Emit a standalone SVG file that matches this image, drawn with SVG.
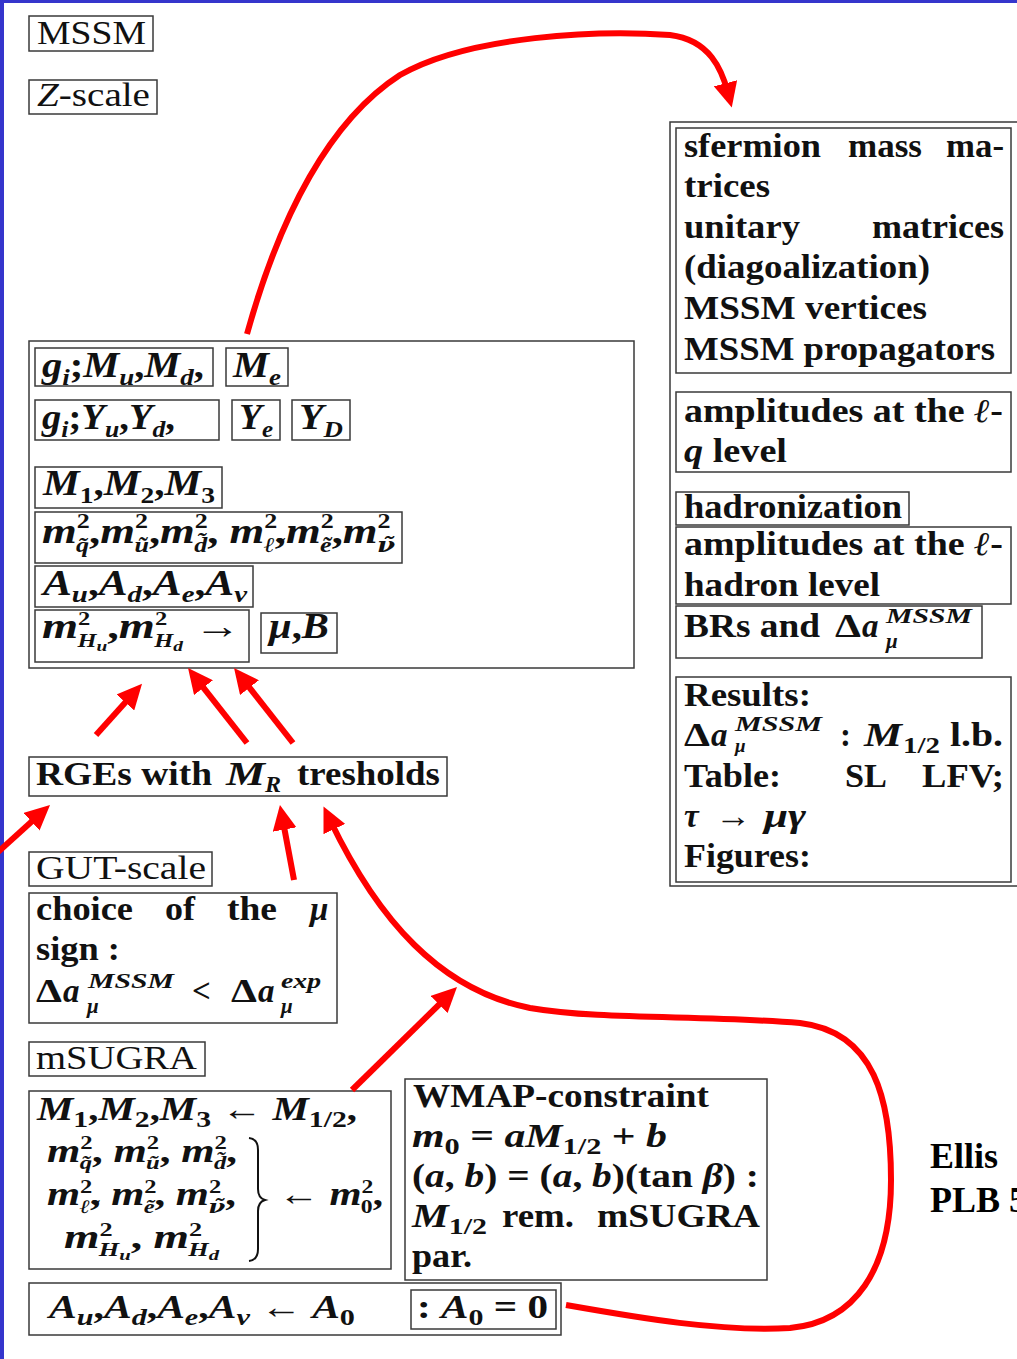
<svg xmlns="http://www.w3.org/2000/svg" width="1017" height="1359" viewBox="0 0 1017 1359">
<defs>
<style>
.bx{fill:none;stroke:#3a3a3a;stroke-width:1.5}
text{font-family:"Liberation Serif","DejaVu Serif",serif;fill:#111}
.r{font-size:33px}
.b{font-size:33px;font-weight:bold}
.m{font-size:36px;font-weight:bold;font-style:italic}
.m2{font-size:33px;font-weight:bold;font-style:italic}
.it{font-style:italic}
.s{font-size:24px}
.t{font-size:21px}
.t2{font-size:19px}
.ss{font-size:15px}
.u{font-style:normal}
.dj{font-family:"DejaVu Serif",serif}
.ar{fill:none;stroke:#ff0000;stroke-width:6}
.ell{font-size:36px;font-weight:bold;fill:#000}
</style>
<marker id="ah" markerUnits="userSpaceOnUse" markerWidth="26" markerHeight="24" refX="10" refY="12" orient="auto" viewBox="0 0 26 24"><path d="M0,0 L25,12 L0,24 z" fill="#ff0000"/></marker>
</defs>
<rect x="0" y="0" width="1017" height="1359" fill="#ffffff"/>
<rect x="0" y="0" width="1017" height="3" fill="#3535cc"/>
<rect x="0" y="0" width="4" height="1359" fill="#3535cc"/>

<g id="mssm"><rect class="bx" x="29" y="16" width="124" height="35"/><text class="r" x="37" y="44" textLength="109" lengthAdjust="spacingAndGlyphs">MSSM</text></g>
<g id="zscale"><rect class="bx" x="29" y="80" width="128" height="34"/><text class="r" x="37" y="106" textLength="113" lengthAdjust="spacingAndGlyphs"><tspan class="it">Z</tspan>-scale</text></g>

<g id="mssm-params">
<rect class="bx" x="29" y="341" width="605" height="327"/>
<rect class="bx" x="35" y="348" width="178" height="38"/>
<text class="m" x="42" y="377" textLength="162" lengthAdjust="spacingAndGlyphs">g<tspan class="s" dy="8">i</tspan><tspan class="u" dy="-8">;</tspan>M<tspan class="s" dy="8">u</tspan><tspan class="u" dy="-8">,</tspan>M<tspan class="s" dy="8">d</tspan><tspan class="u" dy="-8">,</tspan></text>
<rect class="bx" x="226" y="348" width="62" height="38"/>
<text class="m" x="233" y="377" textLength="48" lengthAdjust="spacingAndGlyphs">M<tspan class="s" dy="8">e</tspan></text>
<rect class="bx" x="35" y="400" width="184" height="40"/>
<text class="m" x="42" y="429" textLength="133" lengthAdjust="spacingAndGlyphs">g<tspan class="s" dy="8">i</tspan><tspan class="u" dy="-8">;</tspan>Y<tspan class="s" dy="8">u</tspan><tspan class="u" dy="-8">,</tspan>Y<tspan class="s" dy="8">d</tspan><tspan class="u" dy="-8">,</tspan></text>
<rect class="bx" x="232" y="400" width="48" height="40"/>
<text class="m" x="239" y="429" textLength="34" lengthAdjust="spacingAndGlyphs">Y<tspan class="s" dy="8">e</tspan></text>
<rect class="bx" x="292" y="400" width="58" height="40"/>
<text class="m" x="299" y="429" textLength="44" lengthAdjust="spacingAndGlyphs">Y<tspan class="s" dy="8">D</tspan></text>
<rect class="bx" x="35" y="467" width="187" height="41"/>
<text class="m" x="43" y="495" textLength="172" lengthAdjust="spacingAndGlyphs">M<tspan class="s u" dy="8">1</tspan><tspan class="u" dy="-8">,</tspan>M<tspan class="s u" dy="8">2</tspan><tspan class="u" dy="-8">,</tspan>M<tspan class="s u" dy="8">3</tspan></text>
<rect class="bx" x="35" y="512" width="367" height="51"/>
<text class="m" x="42" y="543" textLength="353" lengthAdjust="spacingAndGlyphs">m<tspan class="t u" dy="-15">2</tspan><tspan class="t" dx="-11" dy="24">q̃</tspan><tspan class="u" dy="-9">,</tspan>m<tspan class="t u" dy="-15">2</tspan><tspan class="t" dx="-11" dy="24">ũ</tspan><tspan class="u" dy="-9">,</tspan>m<tspan class="t u" dy="-15">2</tspan><tspan class="t" dx="-11" dy="24">d̃</tspan><tspan class="u" dy="-9">, </tspan>m<tspan class="t u" dy="-15">2</tspan><tspan class="t" dx="-11" dy="24">ℓ̃</tspan><tspan class="u" dy="-9">,</tspan>m<tspan class="t u" dy="-15">2</tspan><tspan class="t" dx="-11" dy="24">ẽ</tspan><tspan class="u" dy="-9">,</tspan>m<tspan class="t u" dy="-15">2</tspan><tspan class="t dj" dx="-11" dy="24">ν̃</tspan></text>
<rect class="bx" x="35" y="566" width="218" height="41"/>
<text class="m" x="43" y="595" textLength="204" lengthAdjust="spacingAndGlyphs">A<tspan class="s" dy="7">u</tspan><tspan class="u" dy="-7">,</tspan>A<tspan class="s" dy="7">d</tspan><tspan class="u" dy="-7">,</tspan>A<tspan class="s" dy="7">e</tspan><tspan class="u" dy="-7">,</tspan>A<tspan class="s" dy="7">ν</tspan></text>
<rect class="bx" x="35" y="610" width="214" height="52"/>
<text class="m" x="42" y="638" textLength="199" lengthAdjust="spacingAndGlyphs">m<tspan class="t2 u" dy="-13">2</tspan><tspan class="t2" dx="-10" dy="22">H</tspan><tspan class="ss" dy="4">u</tspan><tspan class="u" dy="-13">,</tspan>m<tspan class="t2 u" dy="-13">2</tspan><tspan class="t2" dx="-10" dy="22">H</tspan><tspan class="ss" dy="4">d</tspan><tspan class="u" dy="-13"> →</tspan></text>
<rect class="bx" x="261" y="613" width="76" height="40"/>
<text class="m" x="269" y="638" textLength="60" lengthAdjust="spacingAndGlyphs">μ<tspan class="u">,</tspan>B</text>
</g>

<g id="right-column">
<rect class="bx" x="670" y="122" width="360" height="764"/>
<g id="sfermion">
<rect class="bx" x="676" y="128" width="335" height="245"/>
<text class="b" x="684" y="157" textLength="137" lengthAdjust="spacingAndGlyphs">sfermion</text>
<text class="b" x="848" y="157" textLength="74" lengthAdjust="spacingAndGlyphs">mass</text>
<text class="b" x="946" y="157" textLength="58" lengthAdjust="spacingAndGlyphs">ma-</text>
<text class="b" x="684" y="197" textLength="86" lengthAdjust="spacingAndGlyphs">trices</text>
<text class="b" x="684" y="238" textLength="116" lengthAdjust="spacingAndGlyphs">unitary</text>
<text class="b" x="872" y="238" textLength="132" lengthAdjust="spacingAndGlyphs">matrices</text>
<text class="b" x="684" y="278" textLength="246" lengthAdjust="spacingAndGlyphs">(diagoalization)</text>
<text class="b" x="684" y="319" textLength="243" lengthAdjust="spacingAndGlyphs">MSSM vertices</text>
<text class="b" x="684" y="360" textLength="311" lengthAdjust="spacingAndGlyphs">MSSM propagators</text>
</g>
<g id="amp-lq">
<rect class="bx" x="676" y="392" width="335" height="80"/>
<text class="b" x="684" y="422" textLength="319" lengthAdjust="spacingAndGlyphs">amplitudes at the <tspan class="it">ℓ</tspan>-</text>
<text class="b" x="684" y="462" textLength="103" lengthAdjust="spacingAndGlyphs"><tspan class="it">q</tspan> level</text>
</g>
<g id="hadronization">
<rect class="bx" x="676" y="492" width="233" height="33"/>
<text class="b" x="684" y="518" textLength="218" lengthAdjust="spacingAndGlyphs">hadronization</text>
</g>
<g id="amp-lh">
<rect class="bx" x="676" y="527" width="335" height="77"/>
<text class="b" x="684" y="555" textLength="319" lengthAdjust="spacingAndGlyphs">amplitudes at the <tspan class="it">ℓ</tspan>-</text>
<text class="b" x="684" y="596" textLength="196" lengthAdjust="spacingAndGlyphs">hadron level</text>
</g>
<g id="brs">
<rect class="bx" x="676" y="606" width="306" height="52"/>
<text class="b" x="684" y="637" textLength="136" lengthAdjust="spacingAndGlyphs">BRs and</text>
<text class="b" x="835" y="637" textLength="26" lengthAdjust="spacingAndGlyphs">Δ</text>
<text class="m2" x="862" y="637">a</text>
<text class="m2 t" x="886" y="623" textLength="86" lengthAdjust="spacingAndGlyphs">MSSM</text>
<text class="m2 t" x="886" y="648">μ</text>
</g>
<g id="results">
<rect class="bx" x="676" y="677" width="335" height="205"/>
<text class="b" x="684" y="706" textLength="127" lengthAdjust="spacingAndGlyphs">Results:</text>
<text class="b" x="684" y="746" textLength="26" lengthAdjust="spacingAndGlyphs">Δ</text>
<text class="m2" x="711" y="746">a</text>
<text class="m2 t" x="735" y="731" textLength="87" lengthAdjust="spacingAndGlyphs">MSSM</text>
<text class="m2 t2" x="735" y="752">μ</text>
<text class="b" x="840" y="746">:</text>
<text class="m2" x="864" y="746" textLength="38" lengthAdjust="spacingAndGlyphs">M</text>
<text class="b s" x="903" y="753" textLength="37" lengthAdjust="spacingAndGlyphs">1/2</text>
<text class="b" x="950" y="746" textLength="53" lengthAdjust="spacingAndGlyphs">l.b.</text>
<text class="b" x="684" y="787" textLength="97" lengthAdjust="spacingAndGlyphs">Table:</text>
<text class="b" x="845" y="787" textLength="42" lengthAdjust="spacingAndGlyphs">SL</text>
<text class="b" x="922" y="787" textLength="82" lengthAdjust="spacingAndGlyphs">LFV;</text>
<text class="m2" x="684" y="827">τ</text>
<text class="b" x="715" y="827" textLength="36" lengthAdjust="spacingAndGlyphs">→</text>
<text class="m2" x="764" y="827" textLength="42" lengthAdjust="spacingAndGlyphs">μγ</text>
<text class="b" x="684" y="867" textLength="127" lengthAdjust="spacingAndGlyphs">Figures:</text>
</g>
</g>

<g id="rges">
<rect class="bx" x="29" y="757" width="418" height="39"/>
<text class="b" x="36" y="785" textLength="176" lengthAdjust="spacingAndGlyphs">RGEs with</text>
<text class="m2" x="226" y="785" textLength="39" lengthAdjust="spacingAndGlyphs">M</text>
<text class="m2 s" x="265" y="792">R</text>
<text class="b" x="297" y="785" textLength="143" lengthAdjust="spacingAndGlyphs">tresholds</text>
</g>
<g id="gut"><rect class="bx" x="29" y="852" width="183" height="34"/><text class="r" x="36" y="879" textLength="170" lengthAdjust="spacingAndGlyphs">GUT-scale</text></g>
<g id="choice">
<rect class="bx" x="29" y="893" width="308" height="130"/>
<text class="b" x="36" y="920" textLength="97" lengthAdjust="spacingAndGlyphs">choice</text>
<text class="b" x="165" y="920" textLength="30" lengthAdjust="spacingAndGlyphs">of</text>
<text class="b" x="227" y="920" textLength="50" lengthAdjust="spacingAndGlyphs">the</text>
<text class="m2" x="310" y="920">μ</text>
<text class="b" x="36" y="960" textLength="84" lengthAdjust="spacingAndGlyphs">sign :</text>
<text class="b" x="36" y="1002" textLength="26" lengthAdjust="spacingAndGlyphs">Δ</text>
<text class="m2" x="63" y="1002">a</text>
<text class="m2 t" x="88" y="988" textLength="86" lengthAdjust="spacingAndGlyphs">MSSM</text>
<text class="m2 t" x="87" y="1013">μ</text>
<text class="b" x="192" y="1002">&lt;</text>
<text class="b" x="231" y="1002" textLength="26" lengthAdjust="spacingAndGlyphs">Δ</text>
<text class="m2" x="258" y="1002">a</text>
<text class="m2 t" x="281" y="988" textLength="40" lengthAdjust="spacingAndGlyphs">exp</text>
<text class="m2 t" x="281" y="1013">μ</text>
</g>
<g id="msugra"><rect class="bx" x="29" y="1042" width="176" height="34"/><text class="r" x="36" y="1069" textLength="161" lengthAdjust="spacingAndGlyphs">mSUGRA</text></g>
<g id="msugra-masses">
<rect class="bx" x="29" y="1091" width="362" height="178"/>
<text class="m2" x="37" y="1120" textLength="320" lengthAdjust="spacingAndGlyphs">M<tspan class="s u" dy="7">1</tspan><tspan class="u" dy="-7">,</tspan>M<tspan class="s u" dy="7">2</tspan><tspan class="u" dy="-7">,</tspan>M<tspan class="s u" dy="7">3</tspan><tspan class="u" dy="-7"> ← </tspan>M<tspan class="s u" dy="7">1/2</tspan><tspan class="u" dy="-7">,</tspan></text>
<text class="m2" x="47" y="1162" textLength="190" lengthAdjust="spacingAndGlyphs">m<tspan class="t2 u" dy="-13">2</tspan><tspan class="t2" dx="-10" dy="20">q̃</tspan><tspan class="u" dy="-7">, </tspan>m<tspan class="t2 u" dy="-13">2</tspan><tspan class="t2" dx="-10" dy="20">ũ</tspan><tspan class="u" dy="-7">, </tspan>m<tspan class="t2 u" dy="-13">2</tspan><tspan class="t2" dx="-10" dy="20">d̃</tspan><tspan class="u" dy="-7">,</tspan></text>
<text class="m2" x="47" y="1205" textLength="189" lengthAdjust="spacingAndGlyphs">m<tspan class="t2 u" dy="-12">2</tspan><tspan class="t2" dx="-10" dy="20">ℓ̃</tspan><tspan class="u" dy="-8">, </tspan>m<tspan class="t2 u" dy="-12">2</tspan><tspan class="t2" dx="-10" dy="20">ẽ</tspan><tspan class="u" dy="-8">, </tspan>m<tspan class="t2 u" dy="-12">2</tspan><tspan class="t2 dj" dx="-10" dy="20">ν̃</tspan><tspan class="u" dy="-8">,</tspan></text>
<text class="m2" x="64" y="1248" textLength="155" lengthAdjust="spacingAndGlyphs">m<tspan class="t2 u" dy="-12">2</tspan><tspan class="t2" dx="-10" dy="20">H</tspan><tspan class="ss" dy="4">u</tspan><tspan class="u" dy="-12">, </tspan>m<tspan class="t2 u" dy="-12">2</tspan><tspan class="t2" dx="-10" dy="20">H</tspan><tspan class="ss" dy="4">d</tspan></text>
<path d="M249,1138 Q258,1139 258,1150 L258,1189 Q258,1198 265,1200 Q258,1202 258,1211 L258,1249 Q258,1260 249,1261" fill="none" stroke="#111" stroke-width="2"/>
<text class="m2" x="278" y="1205" textLength="105" lengthAdjust="spacingAndGlyphs"><tspan class="u">← </tspan>m<tspan class="t2 u" dy="-12">2</tspan><tspan class="t2 u" dx="-10" dy="20">0</tspan><tspan class="u" dy="-8">,</tspan></text>
</g>
<g id="wmap">
<rect class="bx" x="405" y="1079" width="362" height="201"/>
<text class="b" x="413" y="1107" textLength="296" lengthAdjust="spacingAndGlyphs">WMAP-constraint</text>
<text class="m2" x="412" y="1147" textLength="255" lengthAdjust="spacingAndGlyphs">m<tspan class="s u" dy="7">0</tspan><tspan class="u" dy="-7"> = </tspan>aM<tspan class="s u" dy="7">1/2</tspan><tspan class="u" dy="-7"> + </tspan>b</text>
<text class="b" x="412" y="1187" textLength="347" lengthAdjust="spacingAndGlyphs">(<tspan class="it">a</tspan>, <tspan class="it">b</tspan>) = (<tspan class="it">a</tspan>, <tspan class="it">b</tspan>)(tan <tspan class="it">β</tspan>) :</text>
<text class="m2" x="412" y="1227" textLength="75" lengthAdjust="spacingAndGlyphs">M<tspan class="s u" dy="7">1/2</tspan></text>
<text class="b" x="502" y="1227" textLength="72" lengthAdjust="spacingAndGlyphs">rem.</text>
<text class="b" x="597" y="1227" textLength="163" lengthAdjust="spacingAndGlyphs">mSUGRA</text>
<text class="b" x="412" y="1267" textLength="60" lengthAdjust="spacingAndGlyphs">par.</text>
</g>
<g id="trilinear">
<rect class="bx" x="29" y="1283" width="532" height="52"/>
<text class="m2" x="49" y="1318" textLength="306" lengthAdjust="spacingAndGlyphs">A<tspan class="s" dy="7">u</tspan><tspan class="u" dy="-7">,</tspan>A<tspan class="s" dy="7">d</tspan><tspan class="u" dy="-7">,</tspan>A<tspan class="s" dy="7">e</tspan><tspan class="u" dy="-7">,</tspan>A<tspan class="s" dy="7">ν</tspan><tspan class="u" dy="-7"> ← </tspan>A<tspan class="s u" dy="7">0</tspan></text>
</g>
<g id="a0">
<rect class="bx" x="411" y="1290" width="145" height="39"/>
<text class="m2" x="417" y="1318" textLength="131" lengthAdjust="spacingAndGlyphs"><tspan class="u">: </tspan>A<tspan class="s u" dy="7">0</tspan><tspan class="u" dy="-7"> = 0</tspan></text>
</g>
<g id="ellis">
<text class="ell" x="930" y="1168">Ellis</text>
<text class="ell" x="930" y="1212">PLB 5</text>
</g>

<g id="connectors">
<path class="ar" marker-end="url(#ah)" d="M247,334 C280,215 330,120 400,75 C470,35 600,30 670,35 C710,40 722,70 728,93"/>
<path class="ar" marker-end="url(#ah)" d="M96,735 L132,695"/>
<path class="ar" marker-end="url(#ah)" d="M247,743 L197.3,679.8"/>
<path class="ar" marker-end="url(#ah)" d="M293,743 L243.3,679.8"/>
<path class="ar" marker-end="url(#ah)" d="M-2,852 L38.9,815"/>
<path class="ar" marker-end="url(#ah)" d="M294,880 L282.7,819.7"/>
<path class="ar" marker-end="url(#ah)" d="M352,1090 L446.3,997.5"/>
<path class="ar" marker-end="url(#ah)" d="M566,1305 C640,1318 720,1332 790,1328 C855,1322 891,1270 891,1180 C891,1100 875,1032 800,1023 C700,1015 600,1020 530,1008 C440,990 378,920 330,820"/>
</g>
</svg>
